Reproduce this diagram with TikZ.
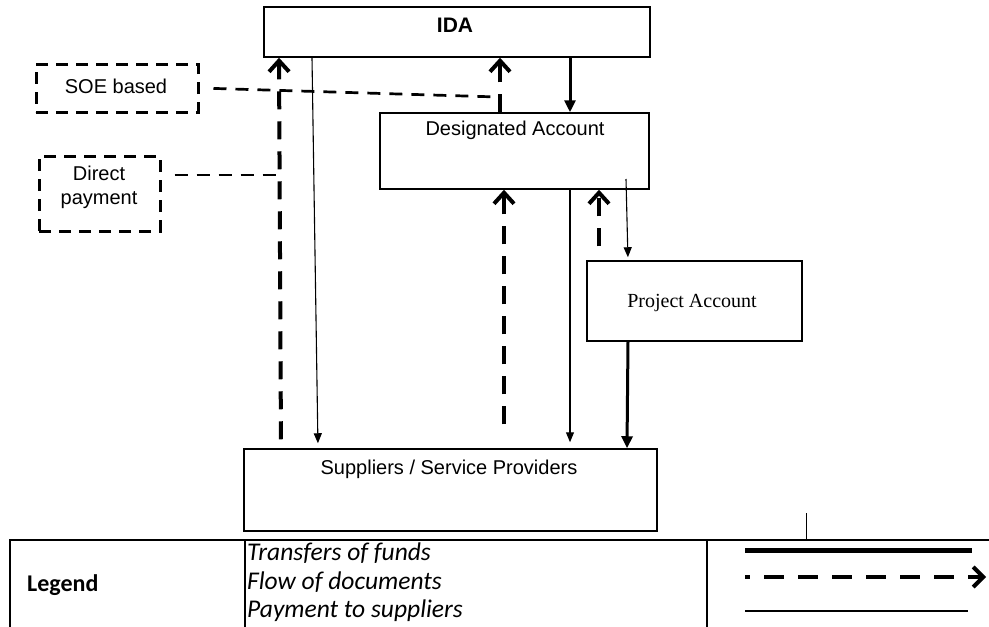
\documentclass[tikz,border=0pt]{standalone}
\usepackage{fontspec}
\setmainfont{Liberation Sans}
\newfontfamily\serifA{Liberation Serif}
\newfontfamily\calib{Carlito}
\usetikzlibrary{arrows.meta,calc}
\begin{document}
\begin{tikzpicture}[x=1pt,y=-1pt,
  box/.style={draw, line width=1.5pt, inner sep=0pt},
  dbox/.style={draw, line width=3pt, dash pattern=on 12pt off 8pt, inner sep=0pt},
  lbl/.style={inner sep=0pt, font=\fontsize{20}{24}\selectfont},
  fund/.style={line width=3pt, -{Triangle[length=12pt,width=11pt]}},
  pay/.style={line width=1.1pt, -{Triangle[length=10pt,width=8pt]}},
  doc/.style={line width=4pt, dash pattern=on 18pt off 12pt, -{Straight Barb[length=11pt,width=20pt]}},
  link/.style={line width=2.7pt, dash pattern=on 13pt off 9pt},
  legtxt/.style={anchor=west, inner sep=0pt, font=\calib\itshape\fontsize{25.5}{29}\selectfont}]
\useasboundingbox (0,0) rectangle (989,627);

% boxes
\node[box, minimum width=386pt, minimum height=50pt] (ida) at (457,32) {};
\node[lbl, font=\bfseries\fontsize{21}{24}\selectfont] (idat) at (455,25) {IDA};
\node[box, minimum width=269pt, minimum height=76pt] (da) at (514.5,151) {};
\node[lbl] (dat) at (515,130) {Designated Account};
\node[box, minimum width=215pt, minimum height=80pt] (pa) at (694.5,301) {};
\node[lbl, font=\serifA\fontsize{20}{24}\selectfont] (pat) at (692,303) {Project Account};
\node[box, minimum width=413pt, minimum height=82pt] (sup) at (450.5,490) {};
\node[lbl] (supt) at (449,469) {Suppliers / Service Providers};
\node[dbox, minimum width=162pt, minimum height=48pt] (soe) at (117,88) {};
\node[lbl] (soet) at (116,86) {SOE based};
\node[dbox, minimum width=121pt, minimum height=75pt] (dp) at (99.5,193.5) {};
\node[lbl, align=center, font=\fontsize{20}{24}\selectfont] (dpt) at (99,187) {Direct\\payment};

% connectors
\draw[doc, shorten <=9pt] (sup.north -| 281,0) -- (ida.south -| 279,0);
\draw[pay, shorten >=5pt] (ida.south -| 312,0) -- (sup.north -| 318,0);
\draw[doc] (da.north -| 500,0) -- (ida.south -| 500,0);
\draw[fund] (ida.south -| 570,0) -- (da.north -| 570,0);
\draw[doc, shorten <=24pt] (sup.north -| 504,0) -- (da.south -| 504,0);
\draw[pay, shorten >=6pt] (da.south -| 570,0) -- (sup.north -| 570,0);
\draw[doc, shorten <=14pt] (pa.north -| 599,0) -- (da.south -| 599,0);
\coordinate (pstart) at (626,179);
\draw[pay, shorten >=3pt] (pstart) -- (pa.north -| 628,0);
\draw[fund] (pa.south -| 628,0) -- (sup.north -| 627,0);

\coordinate (soej) at (498,97);
\draw[link, shorten <=14pt] (soe.east) -- (soej);
\coordinate (dpj) at (277,175);
\draw[link, shorten <=13pt] (dp.east |- dpj) -- (dpj);

% legend table
\draw[line width=1.5pt] (10,627) -- (10,540) -- (989,540);
\draw[line width=1.5pt] (245,540) -- (245,627);
\draw[line width=1.5pt] (707,540) -- (707,627);
\draw[line width=1pt] (806,513) -- (806,540);
\node[anchor=west, inner sep=0pt, font=\calib\bfseries\fontsize{24}{29}\selectfont] (leg) at (27,585) {Legend};
\node[legtxt] (l1) at (247,553) {Transfers of funds};
\node[legtxt] (l2) at (247,582) {Flow of documents};
\node[legtxt] (l3) at (247,611) {Payment to suppliers};
\coordinate (a1) at (745,550); \coordinate (b1) at (972,550);
\coordinate (a2) at (745,577); \coordinate (b2) at (986,577);
\coordinate (a3) at (745,611); \coordinate (b3) at (968,611);
\draw[line width=5pt] (a1) -- (b1);
\draw[line width=4pt, dash pattern=on 20pt off 14pt, dash phase=15pt, -{Straight Barb[length=10pt,width=20pt]}] (a2) -- (b2);
\draw[line width=1.5pt] (a3) -- (b3);
\end{tikzpicture}
\end{document}
